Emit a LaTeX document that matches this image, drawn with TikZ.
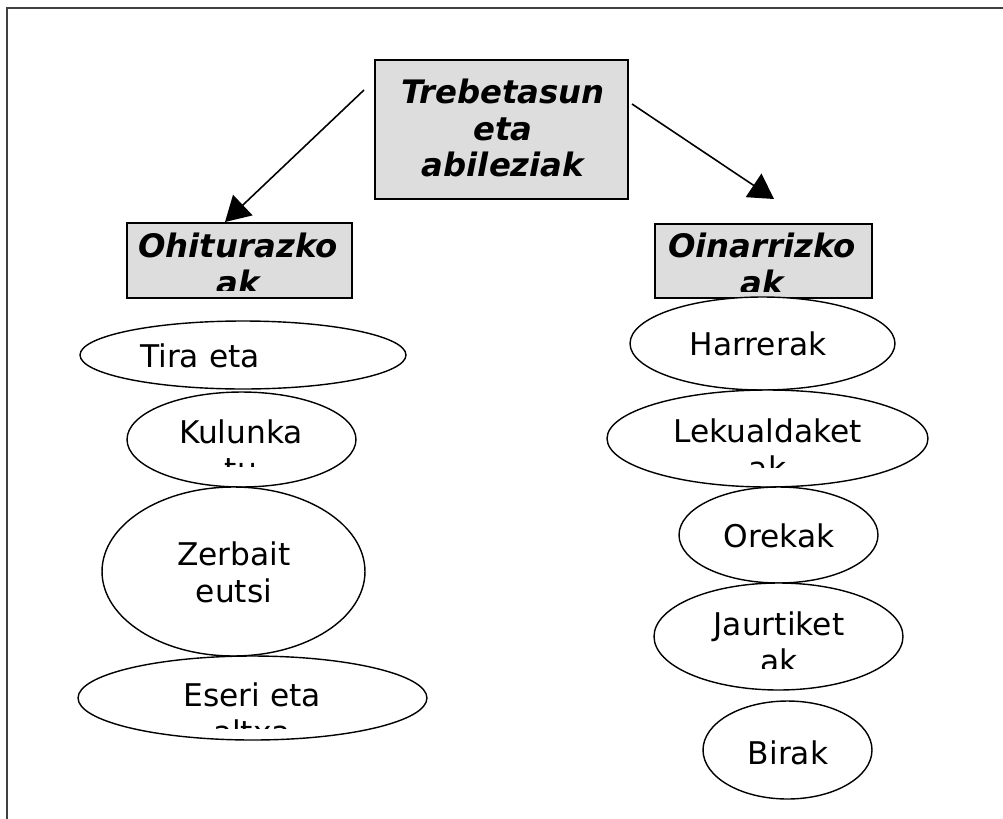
\documentclass[tikz,border=0pt]{standalone}
\usepackage{fontspec}
\setmainfont{DejaVu Sans}
\usepackage{tikz}
\usetikzlibrary{calc}
\usetikzlibrary{arrows.meta}
\usetikzlibrary{shapes.geometric}

\definecolor{boxGray}{HTML}{DDDDDD}
\definecolor{frameGray}{HTML}{404040}

\tikzset{
	headBox/.style={draw, line width=1pt, fill=boxGray, inner sep=0pt},
	itemEllipse/.style={ellipse, draw, line width=0.8pt, fill=white, inner sep=0pt},
	headText/.style={font=\fontsize{18.4}{21}\selectfont\bfseries\itshape, align=center, inner sep=0pt},
	itemText/.style={font=\fontsize{17.8}{21}\selectfont, align=center, inner sep=0pt},
	linkArrow/.style={line width=0.9pt, -{Triangle[length=14pt,width=16pt]}}
}

\begin{document}
\begin{tikzpicture}[x=0.02cm, y=-0.02cm]

	\clip (0,0) rectangle (1003,818);
	
	% frame
	\draw[frameGray, line width=1.3pt] (7,8) rectangle (1030,840);
	
	% heading boxes
	\node[
		headBox,
		minimum width=5.06cm,
		minimum height=2.78cm
	] (trebetasun) at (501.5,129.5) {};
	
	\node[
		headBox,
		minimum width=4.5cm,
		minimum height=1.5cm
	] (ohiturazkoak) at (239.5,260.5) {};
	
	\node[
		headBox,
		minimum width=4.34cm,
		minimum height=1.48cm
	] (oinarrizkoak) at (763.5,261) {};
	
	\node[headText] (trebetasunText) at (503,128) {Trebetasun\\eta\\abileziak};
	
	\begin{scope}
		\clip (ohiturazkoak.north west) rectangle ($(ohiturazkoak.south east)+(0,-8)$);
		\node[headText] (ohiturazkoakText) at (238,264) {Ohiturazko\\ak};
	\end{scope}
	
	\begin{scope}
		\clip (oinarrizkoak.north west) rectangle ($(oinarrizkoak.south east)+(0,-7)$);
		\node[headText] (oinarrizkoakText) at (762,264) {Oinarrizko\\ak};
	\end{scope}
	
	% arrows
	\coordinate (leftStart) at (364,90);
	\coordinate (leftTip) at (225,222);
	\coordinate (rightStart) at (632,104);
	\coordinate (rightTip) at (774,199);
	
	\draw[linkArrow] (leftStart) -- (leftTip);
	\draw[linkArrow] (rightStart) -- (rightTip);
	
	% left column
	\node[itemEllipse, minimum width=6.52cm, minimum height=1.36cm] (tira) at (243,355) {};
	\node[itemText] (tiraText) at (200,355.6) {Tira eta};
	
	\node[itemEllipse, minimum width=4.58cm, minimum height=1.9cm] (kulunkatu) at (241.5,439.5) {};
	\begin{scope}
		\clip ($(kulunkatu.center)+(-120,-60)$) rectangle ($(kulunkatu.center)+(120,26.5)$);
		\node[itemText] (kulunkatuText) at (241,450) {Kulunka\\tu};
	\end{scope}
	
	\node[itemEllipse, minimum width=5.26cm, minimum height=3.38cm] (zerbait) at (233.5,571.5) {};
	\node[itemText] (zerbaitText) at (234,572) {Zerbait\\eutsi};
	
	\node[itemEllipse, minimum width=6.98cm, minimum height=1.68cm] (eseri) at (252.5,698) {};
	\begin{scope}
		\clip ($(eseri.center)+(-180,-50)$) rectangle ($(eseri.center)+(180,30)$);
		\node[itemText] (eseriText) at (252,713) {Eseri eta\\altxa};
	\end{scope}
	
	% right column
	\node[itemEllipse, minimum width=5.3cm, minimum height=1.86cm] (harrerak) at (762.5,343.5) {};
	\node[itemText] (harrerakText) at (758,343.6) {Harrerak};
	
	\node[itemEllipse, minimum width=6.42cm, minimum height=1.94cm] (lekualdaketak) at (767.5,438.5) {};
	\begin{scope}
		\clip ($(lekualdaketak.center)+(-165,-60)$) rectangle ($(lekualdaketak.center)+(165,28.5)$);
		\node[itemText] (lekualdaketakText) at (767.5,449) {Lekualdaket\\ak};
	\end{scope}
	
	\node[itemEllipse, minimum width=3.98cm, minimum height=1.92cm] (orekak) at (778.5,535) {};
	\node[itemText] (orekakText) at (779,535.6) {Orekak};
	
	\node[itemEllipse, minimum width=4.98cm, minimum height=2.14cm] (jaurtiketak) at (778.5,636.5) {};
	\begin{scope}
		\clip ($(jaurtiketak.center)+(-130,-60)$) rectangle ($(jaurtiketak.center)+(130,31.5)$);
		\node[itemText] (jaurtiketakText) at (779,642) {Jaurtiket\\ak};
	\end{scope}
	
	\node[itemEllipse, minimum width=3.38cm, minimum height=1.96cm] (birak) at (787.5,750) {};
	\node[itemText] (birakText) at (788,752.6) {Birak};
	
\end{tikzpicture}
\end{document}
